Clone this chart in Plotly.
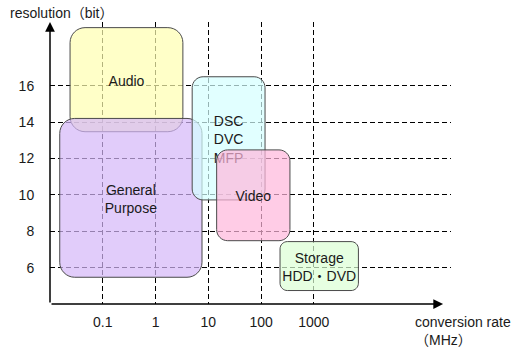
import numpy as np
import plotly.graph_objects as go

# ---- data ----
categories = ["Audio", "General<br>Purpose", "DSC<br>DVC<br>MFP", "Video", "Storage<br>HDD・DVD"]
rate_min = [0.024, 0.0153, 4.95, 14.4, 229.0]     # MHz
rate_max = [3.3, 7.6, 119.0, 353.0, 7000.0]       # MHz
bits_min = [13.47, 5.47, 9.72, 7.48, 4.74]
bits_max = [19.19, 14.2, 16.49, 12.47, 7.43]

xtick_vals = [0.1, 1, 10, 100, 1000]
xtick_text = ["0.1", "1", "10", "100", "1000"]
ytick_vals = [6, 8, 10, 12, 14, 16]
ytick_text = ["6", "8", "10", "12", "14", "16"]

# ---- styles ----
fill_colors = [
    "rgba(255,255,176,0.7)",
    "rgba(212,183,248,0.7)",
    "rgba(212,255,255,0.7)",
    "rgba(255,183,219,0.7)",
    "rgba(219,255,212,0.7)",
]
edge_color = "#4a4a4a"
FONT = "Liberation Sans, Arial, Noto Sans CJK JP, sans-serif"
TXT = "#1a1a1a"

W, H = 530, 351
ML, MR, MT, MB = 50, 79, 22, 47
XR = [-2.0, 5.6]      # log10(MHz)
YR = [4.0, 19.5]
PW, PH = W - ML - MR, H - MT - MB
sx = PW / (XR[1] - XR[0])
sy = PH / (YR[1] - YR[0])


def rounded_path(x0, x1, y0, y1, r_px):
    rx, ry = r_px / sx, r_px / sy
    k = 0.5523
    cx, cy = rx * k, ry * k
    p = []
    p.append(f"M{x0 + rx},{y1}")
    p.append(f"L{x1 - rx},{y1}")
    p.append(f"C{x1 - rx + cx},{y1} {x1},{y1 - ry + cy} {x1},{y1 - ry}")
    p.append(f"L{x1},{y0 + ry}")
    p.append(f"C{x1},{y0 + ry - cy} {x1 - rx + cx},{y0} {x1 - rx},{y0}")
    p.append(f"L{x0 + rx},{y0}")
    p.append(f"C{x0 + rx - cx},{y0} {x0},{y0 + ry - cy} {x0},{y0 + ry}")
    p.append(f"L{x0},{y1 - ry}")
    p.append(f"C{x0},{y1 - ry + cy} {x0 + rx - cx},{y1} {x0 + rx},{y1}")
    p.append("Z")
    return " ".join(p)


shapes = []
for name, a, b, c, d, col in zip(categories, rate_min, rate_max, bits_min, bits_max, fill_colors):
    x0, x1 = np.log10(a), np.log10(b)
    wpx = (x1 - x0) * sx
    hpx = (d - c) * sy
    r = min(15.0, 0.15 * min(wpx, hpx))
    shapes.append(dict(
        type="path", xref="x", yref="y",
        path=rounded_path(x0, x1, c, d, r),
        fillcolor=col, line=dict(color=edge_color, width=1),
        layer="above",
        label=dict(text=name, textposition="middle center",
                   font=dict(family=FONT, size=14, color=TXT)),
    ))

fig = go.Figure()
fig.add_trace(go.Scatter(x=[None], y=[None], showlegend=False, hoverinfo="skip"))


def px2paper_x(px):
    return (px - ML) / PW


def px2paper_y(py):
    return (H - MB - py) / PH


annotations = [
    # y axis with arrow
    dict(x=XR[0], y=YR[1], ax=XR[0], ay=YR[0], xref="x", yref="y", axref="x", ayref="y",
         text="", showarrow=True, arrowhead=2, arrowsize=1.3, arrowwidth=1.5, arrowcolor="black",
         standoff=0, startstandoff=0),
    # x axis with arrow
    dict(x=5.45, y=YR[0], ax=XR[0], ay=YR[0], xref="x", yref="y", axref="x", ayref="y",
         text="", showarrow=True, arrowhead=2, arrowsize=1.3, arrowwidth=1.5, arrowcolor="black",
         standoff=0, startstandoff=0),
    dict(x=px2paper_x(8), y=px2paper_y(13), xref="paper", yref="paper",
         text="resolution（bit）", showarrow=False, xanchor="left", yanchor="middle",
         font=dict(family=FONT, size=14, color=TXT)),
    dict(x=px2paper_x(413), y=px2paper_y(330.5), xref="paper", yref="paper",
         text="conversion rate<br>（MHz）", showarrow=False, xanchor="left", yanchor="middle",
         align="left", font=dict(family=FONT, size=14, color=TXT)),
]

fig.update_layout(
    width=W, height=H,
    margin=dict(l=ML, r=MR, t=MT, b=MB, pad=0),
    paper_bgcolor="white", plot_bgcolor="white",
    showlegend=False,
    shapes=shapes,
    annotations=annotations,
    xaxis=dict(
        range=XR, showgrid=True, gridcolor="black", gridwidth=1, griddash="5px,3px",
        tickmode="array", tickvals=[np.log10(v) for v in xtick_vals], ticktext=xtick_text,
        ticks="outside", ticklen=5, tickcolor="rgba(0,0,0,0)",
        tickfont=dict(family=FONT, size=14, color=TXT),
        zeroline=False, showline=False, fixedrange=True,
    ),
    yaxis=dict(
        range=YR, showgrid=True, gridcolor="black", gridwidth=1, griddash="5px,3px",
        tickmode="array", tickvals=ytick_vals, ticktext=ytick_text,
        ticks="outside", ticklen=12, tickcolor="rgba(0,0,0,0)",
        tickfont=dict(family=FONT, size=14, color=TXT),
        zeroline=False, showline=False, fixedrange=True,
    ),
)

fig.write_html("out.html")
